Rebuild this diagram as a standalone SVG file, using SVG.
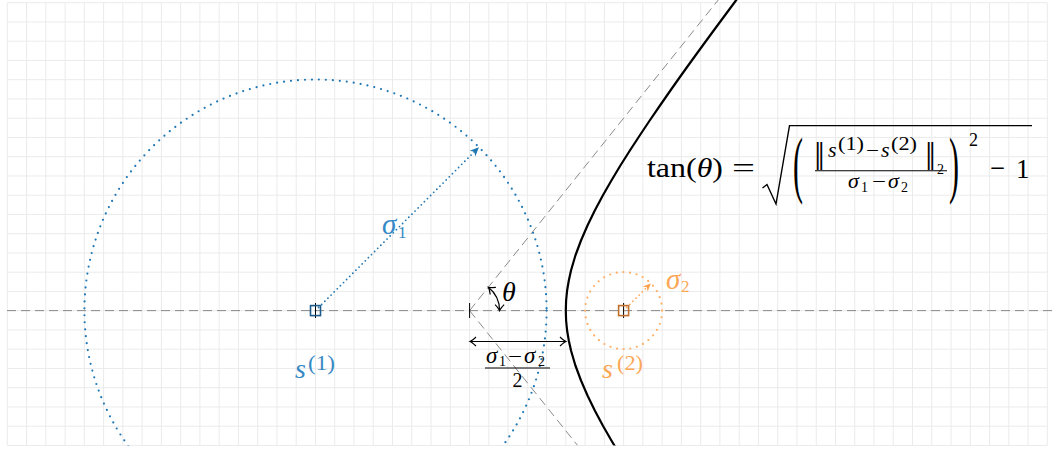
<svg xmlns="http://www.w3.org/2000/svg" width="1059" height="449" viewBox="0 0 1059 449">
<style>
.grid{stroke:#ebebeb;stroke-width:1;fill:none}
.dash{stroke:#8a8a8a;stroke-width:1;stroke-dasharray:9 5;fill:none}
.m{font-family:"Liberation Serif","DejaVu Serif",serif;fill:#000}
.i{font-style:italic}
.blue{fill:#3589c4}
.orange{fill:#fba755}
</style>
<defs>
<clipPath id="clip"><rect x="0" y="0" width="1059" height="445.5"/></clipPath>
<marker id="stealthB" markerUnits="userSpaceOnUse" markerWidth="12" markerHeight="10" viewBox="-10 -5 12 10" refX="0" refY="0" orient="auto"><path d="M0,0 L-9,-4 L-6.5,0 L-9,4 Z" fill="#1f77b4"/></marker>
<marker id="stealthO" markerUnits="userSpaceOnUse" markerWidth="12" markerHeight="10" viewBox="-10 -5 12 10" refX="0" refY="0" orient="auto"><path d="M0,0 L-8,-3.5 L-5.5,0 L-8,3.5 Z" fill="#fd9f4a"/></marker>
<marker id="to" markerUnits="userSpaceOnUse" markerWidth="10" markerHeight="12" viewBox="-8 -6 10 12" refX="0" refY="0" orient="auto-start-reverse"><path d="M-6,-4.5 Q-2,-0.8 0,0 Q-2,0.8 -6,4.5" fill="none" stroke="#000" stroke-width="1.2"/></marker>
</defs>
<rect width="1059" height="449" fill="#fff"/>
<g id="grid">
<path class="grid" d="M7.3 2.7V445.45M26.56 2.7V445.45M45.82 2.7V445.45M65.08 2.7V445.45M84.34 2.7V445.45M103.6 2.7V445.45M122.86 2.7V445.45M142.12 2.7V445.45M161.38 2.7V445.45M180.64 2.7V445.45M199.9 2.7V445.45M219.16 2.7V445.45M238.42 2.7V445.45M257.68 2.7V445.45M276.94 2.7V445.45M296.2 2.7V445.45M315.46 2.7V445.45M334.72 2.7V445.45M353.98 2.7V445.45M373.24 2.7V445.45M392.5 2.7V445.45M411.76 2.7V445.45M431.02 2.7V445.45M450.28 2.7V445.45M469.54 2.7V445.45M488.8 2.7V445.45M508.06 2.7V445.45M527.32 2.7V445.45M546.58 2.7V445.45M565.84 2.7V445.45M585.1 2.7V445.45M604.36 2.7V445.45M623.62 2.7V445.45M642.88 2.7V445.45M662.14 2.7V445.45M681.4 2.7V445.45M700.66 2.7V445.45M719.92 2.7V445.45M739.18 2.7V445.45M758.44 2.7V445.45M777.7 2.7V445.45M796.96 2.7V445.45M816.22 2.7V445.45M835.48 2.7V445.45M854.74 2.7V445.45M874 2.7V445.45M893.26 2.7V445.45M912.52 2.7V445.45M931.78 2.7V445.45M951.04 2.7V445.45M970.3 2.7V445.45M989.56 2.7V445.45M1008.82 2.7V445.45M1028.08 2.7V445.45M1047.34 2.7V445.45
M7.3 2.7H1047.34M7.3 21.95H1047.34M7.3 41.2H1047.34M7.3 60.45H1047.34M7.3 79.7H1047.34M7.3 98.95H1047.34M7.3 118.2H1047.34M7.3 137.45H1047.34M7.3 156.7H1047.34M7.3 175.95H1047.34M7.3 195.2H1047.34M7.3 214.45H1047.34M7.3 233.7H1047.34M7.3 252.95H1047.34M7.3 272.2H1047.34M7.3 291.45H1047.34M7.3 310.7H1047.34M7.3 329.95H1047.34M7.3 349.2H1047.34M7.3 368.45H1047.34M7.3 387.7H1047.34M7.3 406.95H1047.34M7.3 426.2H1047.34M7.3 445.45H1047.34"/>
</g>
<g id="connectors" clip-path="url(#clip)">
<line class="dash" x1="7" y1="310.6" x2="1054" y2="310.6"/>
<line class="dash" x1="469.6" y1="310.6" x2="718.2" y2="0"/>
<line class="dash" x1="469.6" y1="310.6" x2="577.6" y2="445.5"/>
<line x1="469.6" y1="303" x2="469.6" y2="318" stroke="#000" stroke-width="1"/>
<path id="hyperbola" d="M739.7,-4.5 L735.9,0.5 L724.8,15.5 L713.7,30.5 L702.7,45.5 L691.8,60.5 L681,75.5 L670.4,90.5 L660,105.5 L649.7,120.5 L639.7,135.5 L629.9,150.5 L620.4,165.5 L611.4,180.5 L602.8,195.5 L594.8,210.5 L587.5,225.5 L581,240.5 L575.4,255.5 L571,270.5 L568.8,280.5 L567.1,290.5 L566.1,300.5 L565.8,310.5 L566.1,320.5 L567.1,330.5 L568.8,340.5 L571,350.5 L575.4,365.5 L581,380.5 L587.5,395.5 L594.8,410.5 L602.8,425.5 L611.4,440.5 L620.4,455.5" fill="none" stroke="#000" stroke-width="2.2" stroke-linejoin="round"/>
<circle cx="315.5" cy="310.6" r="231.1" fill="none" stroke="#1f77b4" stroke-width="2.2" stroke-linecap="round" stroke-dasharray="0 7"/>
<circle cx="623.6" cy="310.6" r="38.5" fill="none" stroke="#ffae63" stroke-width="2.2" stroke-linecap="round" stroke-dasharray="0 6.7"/>
<line x1="315.5" y1="310.6" x2="478.9" y2="147.2" stroke="#1f77b4" stroke-width="1.8" stroke-linecap="round" stroke-dasharray="0 4.4" marker-end="url(#stealthB)"/>
<line x1="623.6" y1="310.6" x2="650.8" y2="283.4" stroke="#ffa85a" stroke-width="1.8" stroke-linecap="round" stroke-dasharray="0 4.4" marker-end="url(#stealthO)"/>
<path d="M488.4,287.2 A30,30 0 0 1 499.6,310.6" fill="none" stroke="#000" stroke-width="1.2" marker-start="url(#to)" marker-end="url(#to)"/>
<line x1="470" y1="341.5" x2="566" y2="341.5" stroke="#000" stroke-width="1.2" marker-start="url(#to)" marker-end="url(#to)"/>
</g>
<g id="s1">
<line x1="315.5" y1="303" x2="315.5" y2="318" stroke="#000" stroke-width="1"/>
<rect x="310.5" y="305.6" width="10" height="10" fill="none" stroke="#1c5b8c" stroke-width="1.6"/>
<text class="m i blue" x="295" y="378" font-size="28">s</text>
<text class="m blue" x="308" y="370" font-size="21" textLength="27" lengthAdjust="spacingAndGlyphs">(1)</text>
</g>
<g id="s2">
<line x1="623.6" y1="303" x2="623.6" y2="318" stroke="#000" stroke-width="1"/>
<rect x="618.6" y="305.6" width="10" height="10" fill="none" stroke="#c0702e" stroke-width="1.6"/>
<text class="m i orange" x="602" y="378" font-size="28">s</text>
<text class="m orange" x="617" y="370" font-size="21" textLength="26" lengthAdjust="spacingAndGlyphs">(2)</text>
</g>
<g id="sigma1-label">
<text class="m i blue" x="382" y="234" font-size="29">σ</text>
<text class="m blue" x="398" y="237.5" font-size="17">1</text>
</g>
<g id="sigma2-label">
<text class="m i orange" x="666" y="288.5" font-size="29">σ</text>
<text class="m orange" x="681" y="292" font-size="17">2</text>
</g>
<g id="theta-label">
<text class="m i" x="502" y="301" font-size="28">θ</text>
</g>
<g id="half-diff-label">
<text class="m i" x="486" y="362.5" font-size="23">σ</text>
<text class="m" x="499" y="366" font-size="14">1</text>
<text class="m" x="508" y="362.5" font-size="20" textLength="14" lengthAdjust="spacingAndGlyphs">−</text>
<text class="m i" x="524" y="362.5" font-size="23">σ</text>
<text class="m" x="538" y="366" font-size="14">2</text>
<line x1="485" y1="368" x2="550" y2="368" stroke="#000" stroke-width="1.2"/>
<text class="m" x="517.5" y="387" font-size="20" text-anchor="middle">2</text>
</g>
<g id="formula">
<text class="m" x="647" y="177" font-size="28" textLength="76" lengthAdjust="spacingAndGlyphs">tan(<tspan class="i">θ</tspan>)</text>
<text class="m" x="743.5" y="177" font-size="27" text-anchor="middle" textLength="23" lengthAdjust="spacingAndGlyphs">=</text>
<path d="M762.5,188 L767,184.5 L776,204 L789.5,125.6 L1032,125.6" fill="none" stroke="#000" stroke-width="1.4" stroke-linejoin="miter"/>
<text class="m" transform="translate(793,189) scale(1,2.45)" font-size="30">(</text>
<text class="m" transform="translate(949,189) scale(1,2.45)" font-size="30">)</text>
<text transform="translate(814,163) scale(1,1.25)" font-size="22" style="font-family:'DejaVu Serif',serif">‖</text>
<text class="m i" x="828" y="157" font-size="22">s</text>
<text class="m" x="838" y="150" font-size="18" textLength="26" lengthAdjust="spacingAndGlyphs">(1)</text>
<text class="m" x="866" y="157" font-size="20" textLength="13" lengthAdjust="spacingAndGlyphs">−</text>
<text class="m i" x="881" y="157" font-size="22">s</text>
<text class="m" x="891" y="150" font-size="18" textLength="26" lengthAdjust="spacingAndGlyphs">(2)</text>
<text transform="translate(925,163) scale(1,1.25)" font-size="22" style="font-family:'DejaVu Serif',serif">‖</text>
<text class="m" x="937" y="174" font-size="14">2</text>
<line x1="815" y1="170.8" x2="947" y2="170.8" stroke="#000" stroke-width="1.1"/>
<text class="m i" x="848" y="188" font-size="22">σ</text>
<text class="m" x="861" y="192" font-size="14">1</text>
<text class="m" x="872" y="188" font-size="20" textLength="14" lengthAdjust="spacingAndGlyphs">−</text>
<text class="m i" x="888" y="188" font-size="22">σ</text>
<text class="m" x="901" y="192" font-size="14">2</text>
<text class="m" x="969" y="145.5" font-size="18">2</text>
<text class="m" x="990" y="177" font-size="27" textLength="15" lengthAdjust="spacingAndGlyphs">−</text>
<text class="m" x="1016" y="178" font-size="27">1</text>
</g>
</svg>
